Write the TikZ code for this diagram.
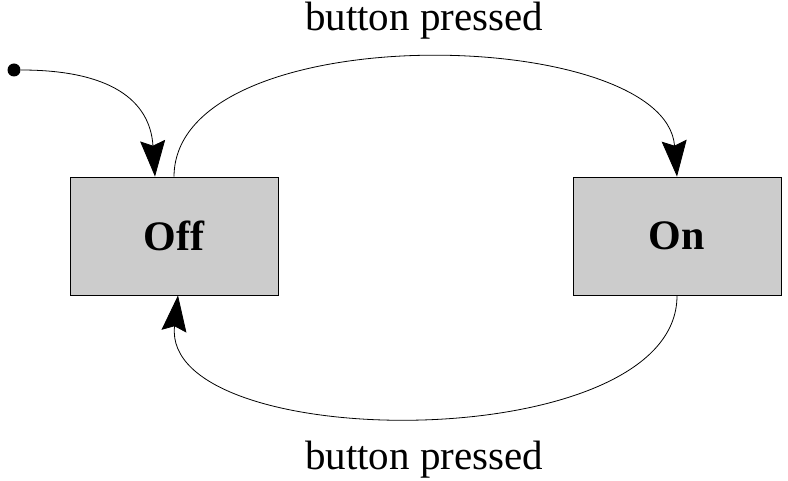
\documentclass[tikz,border=0pt]{standalone}
\usepackage{fontspec}
\setmainfont{Liberation Serif}
\usetikzlibrary{arrows.meta,positioning}

\begin{document}
\begin{tikzpicture}[x=1pt, y=-1pt, >={Stealth[length=36pt,width=25pt,inset=5pt]}, line width=0.8pt,
    state node/.style={draw, fill=black!20, minimum width=208pt, minimum height=118pt, inner sep=0pt, font=\fontsize{42}{44}\selectfont\bfseries},
    edge label/.style={anchor=base, font=\fontsize{41}{44}\selectfont}]
                \useasboundingbox (0,0) rectangle (788,481);

                \node[circle, fill, inner sep=0pt, minimum size=13pt] (start) at (14,70) {};
                \node[state node] (off) at (174,236) {Off};
                \node[state node] (on) [right of = off, node distance = 503pt] {On};

                \node[edge label] (top label) at (424,31) {button pressed};
                \node[edge label] (bottom label) at (424,469) {button pressed};

                \draw[->] (start) .. controls (110,70) and (150,100) .. ([xshift=-19pt]off.north);
                \draw[->] (off.north) .. controls (175,15) and (665,25) .. (on.north);
                \draw[->] (on.south) .. controls (678,458) and (160,455) .. ([xshift=4pt]off.south);
\end{tikzpicture}
\end{document}
